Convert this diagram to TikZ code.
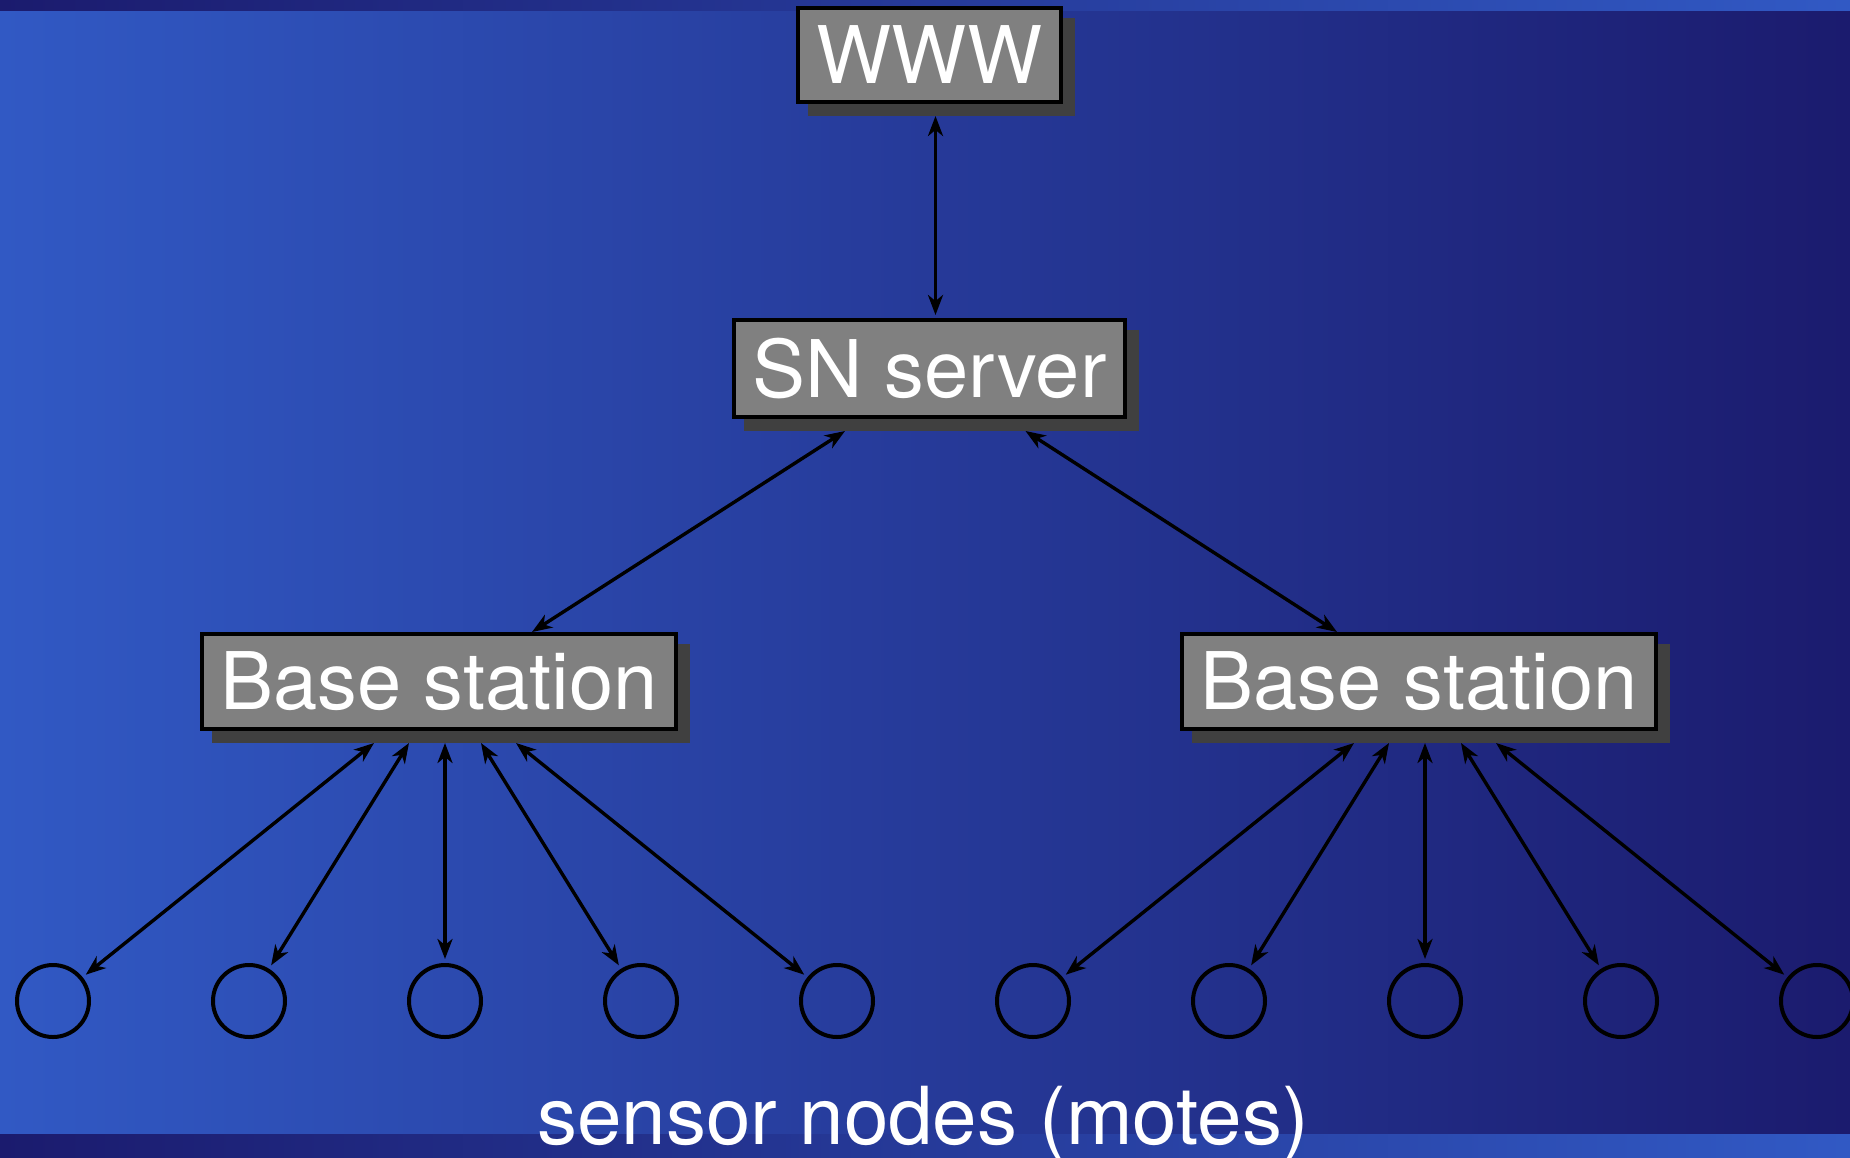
\documentclass[tikz,border=0pt]{standalone}
\usepackage{fontspec}
\setmainfont{TeX Gyre Heros}
\usetikzlibrary{arrows.meta,calc}
\definecolor{bgL}{RGB}{49,89,196}
\definecolor{bgR}{RGB}{27,27,110}
\definecolor{boxgray}{RGB}{128,128,128}
\definecolor{shgray}{RGB}{64,64,64}
\pgfdeclarelayer{back}
\pgfsetlayers{back,main}
\begin{document}
\begin{tikzpicture}[x=1pt,y=-1pt,
  box/.style={draw=black, line width=4pt, fill=boxgray, text=white, inner sep=0pt, outer sep=2pt, font=\fontsize{79.5}{90}\selectfont},
  mote/.style={circle, draw=black, line width=4pt, inner sep=0pt, outer sep=2pt, minimum size=72pt},
  link/.style={line width=3.4pt, {Stealth[length=20pt,width=15pt,inset=6pt]}-{Stealth[length=20pt,width=15pt,inset=6pt]}},
  caption/.style={text=white, inner sep=0pt, font=\fontsize{80}{90}\selectfont}
]
\useasboundingbox (0,0) rectangle (1850,1157);
\clip (0,0) rectangle (1850,1157);

\node[box, minimum width=263pt, minimum height=94pt] (www) at (929.5,55) {WWW};
\node[box, minimum width=391pt, minimum height=97pt] (sn) at (929.5,368.5) {SN server};
\node[box, minimum width=474pt, minimum height=95pt] (bs1) at (439,681.5) {Base station};
\node[box, minimum width=474pt, minimum height=95pt] (bs2) at (1419,681.5) {Base station};

\foreach \i in {0,...,9} \node[mote] (m\i) at ({53+196*\i},1001) {};

\node[caption, anchor=base] (lbl) at (923,1144) {sensor nodes (motes)};

\begin{pgfonlayer}{back}
  \shade[left color=bgL, right color=bgR] (0,0) rectangle (1850,1157);
  \shade[left color=bgR, right color=bgL] (0,0) rectangle (1850,10);
  \shade[left color=bgR, right color=bgL] (0,1134) rectangle (1850,1157);
  \foreach \n in {www,sn,bs1,bs2}
    \fill[shgray] ([shift={(12,12)}]\n.north west) rectangle ([shift={(12,12)}]\n.south east);
\end{pgfonlayer}

\draw[link] ([shift={(6,12)}]www.south) -- ([shift={(6,-3)}]sn.north);
\draw[link] ([shift={(-84.5,12)}]sn.south) -- ([shift={(93,0)}]bs1.north);
\draw[link] ([shift={(96,12)}]sn.south) -- ([shift={(-82,0)}]bs2.north);

\foreach \dx [count=\k from 0] in {-71,-36,0,36,71}
  \draw[link, shorten >=4pt] ([shift={({6+\dx},12)}]bs1.south) -- (m\k);
\foreach \dx [count=\k from 5] in {-71,-36,0,36,71}
  \draw[link, shorten >=4pt] ([shift={({6+\dx},12)}]bs2.south) -- (m\k);
\end{tikzpicture}
\end{document}
